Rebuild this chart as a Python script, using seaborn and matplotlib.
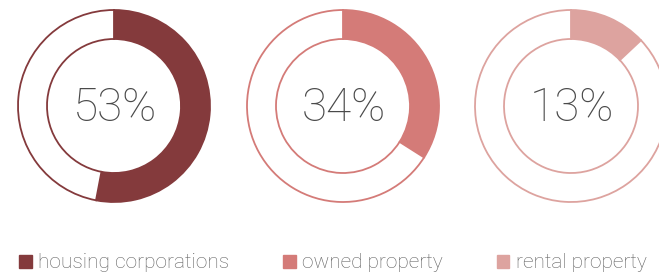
import matplotlib
matplotlib.use("Agg")
import matplotlib.pyplot as plt
import matplotlib.patches as mpatches
import seaborn as sns

# data
categories = ["housing corporations", "owned property", "rental property"]
shares = [53, 34, 13]
colors = ["#843a3c", "#d47b78", "#dda39f"]

sns.set_theme(style="white")
plt.rcParams["font.family"] = ["Roboto", "DejaVu Sans"]

W, H = 659, 278
fig = plt.figure(figsize=(W / 100, H / 100), dpi=100)
ax = fig.add_axes([0, 0, 1, 1])

R = 96
ring = 29
cy = H - 106
centers_x = [114, 343, 571]

for cx, share, col in zip(centers_x, shares, colors):
    ax.pie([share, 100 - share], colors=[col, "white"], startangle=90,
           counterclock=False, radius=R, center=(cx, cy), frame=True,
           wedgeprops=dict(width=ring, edgecolor=col, linewidth=1.3))
    ax.text(cx + 1, cy - 2, f"{share}%", ha="center", va="center",
            fontsize=33, fontweight="light", color="#4a4a4a")

ax.set_xlim(0, W)
ax.set_ylim(0, H)
ax.set_aspect("equal")
ax.axis("off")

handles = [mpatches.Patch(color=c, label=l) for c, l in zip(colors, categories)]
fig.legend(handles=handles, loc="center", bbox_to_anchor=(0.505, 1 - 263 / H),
           ncol=3, frameon=False, handlelength=0.6, handleheight=0.6,
           handletextpad=0.3, columnspacing=2.6, prop=dict(size=15, weight="light"),
           labelcolor="#606060", borderpad=0, borderaxespad=0)

fig.savefig("out.png", dpi=100)
